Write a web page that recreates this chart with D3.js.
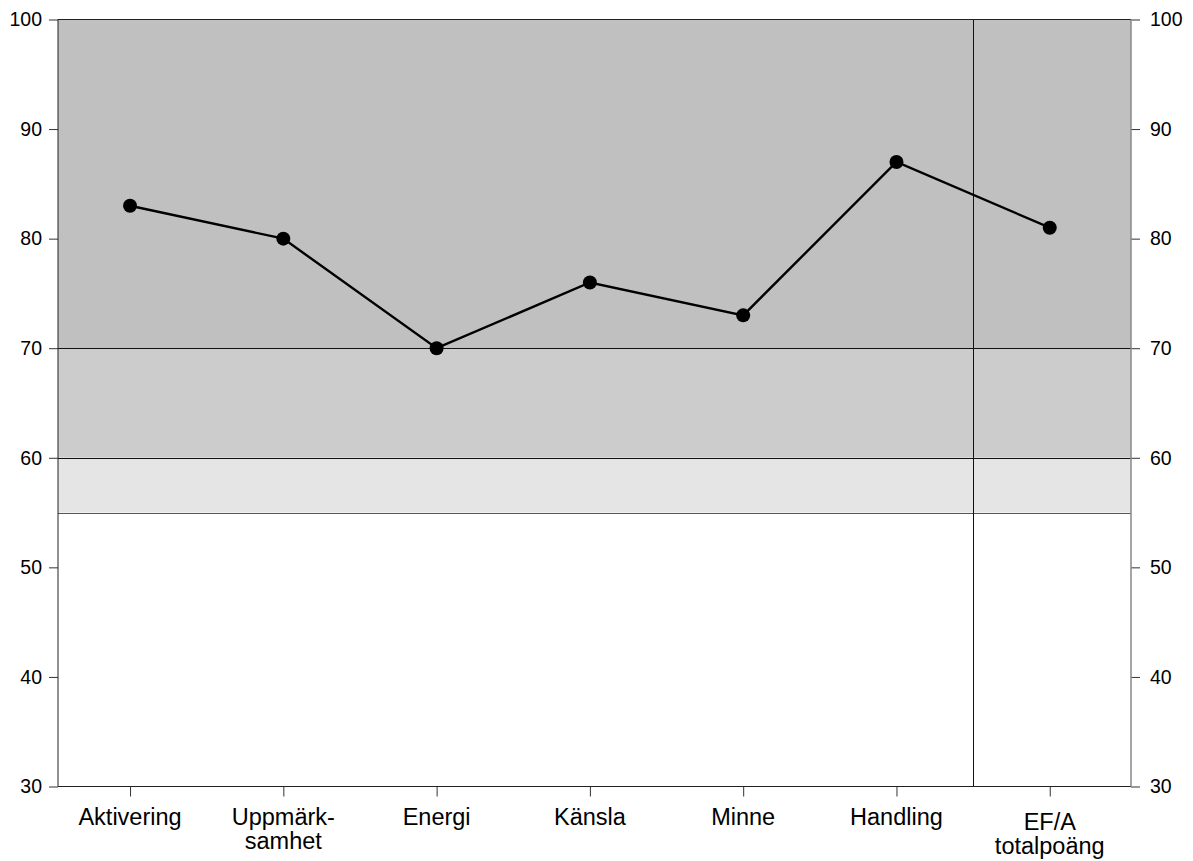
<!DOCTYPE html>
<html>
<head>
<meta charset="utf-8">
<script src="https://d3js.org/d3.v7.min.js"></script>
<style>
  body { margin: 0; background: #fff; }
  svg { font-family: "Liberation Sans", Arial, sans-serif; }
</style>
</head>
<body>
<div id="chart"></div>
<script>
const categories = ["Aktivering", "Uppmärk-\nsamhet", "Energi", "Känsla", "Minne", "Handling", "EF/A\ntotalpoäng"];
const values = [83, 80, 70, 76, 73, 87, 81];
const yTicks = [30, 40, 50, 60, 70, 80, 90, 100];
const bands = [
  { from: 70, to: 100, fill: "#c0c0c0" },
  { from: 60, to: 70, fill: "#cccccc" },
  { from: 55, to: 60, fill: "#e5e5e5" }
];
const bandLines = [70, 60, 55];

const W = 1193, H = 861;
const pLeft = 58, pRight = 1131, pTop = 19.5, pBottom = 786.5;

const svg = d3.select("#chart").append("svg")
  .attr("width", W).attr("height", H);

const y = d3.scaleLinear().domain([30, 100]).range([pBottom, pTop]);
const x = d3.scaleLinear().domain([-0.47, 6.53]).range([pLeft, pRight]);

// bands
svg.selectAll("rect.band").data(bands).join("rect")
  .attr("class", "band")
  .attr("x", pLeft).attr("width", pRight - pLeft)
  .attr("y", d => y(d.to)).attr("height", d => y(d.from) - y(d.to))
  .attr("fill", d => d.fill);

svg.selectAll("line.bl").data(bandLines).join("line")
  .attr("class", "bl")
  .attr("x1", pLeft).attr("x2", pRight)
  .attr("y1", d => Math.round(y(d)) + 0.5).attr("y2", d => Math.round(y(d)) + 0.5)
  .attr("stroke", d => d === 55 ? "#555" : "#111").attr("stroke-width", 1);

// separator between subscales and total
const sepX = Math.round(x(5.5)) + 0.5;
svg.append("line")
  .attr("x1", sepX).attr("x2", sepX).attr("y1", pTop).attr("y2", pBottom)
  .attr("stroke", "#111");

// axes
const axL = svg.append("g").attr("transform", `translate(${pLeft},0)`)
  .call(d3.axisLeft(y).tickValues(yTicks).tickSize(9).tickPadding(7));
const axR = svg.append("g").attr("transform", `translate(${pRight},0)`)
  .call(d3.axisRight(y).tickValues(yTicks).tickSize(9).tickPadding(10));
const axB = svg.append("g").attr("transform", `translate(0,${pBottom})`)
  .call(d3.axisBottom(x).tickValues(d3.range(categories.length)).tickSize(10).tickFormat(""));

[axL, axR].forEach(a => {
  a.select(".domain").remove();
  a.selectAll("text").attr("font-size", 19.5).attr("fill", "#000")
    .attr("font-family", "Liberation Sans, Arial, sans-serif");
  a.selectAll("line").attr("stroke", "#333");
});
axB.select(".domain").remove();
axB.selectAll("line").attr("stroke", "#333");

// frame
svg.append("line").attr("x1", pLeft).attr("x2", pRight).attr("y1", pTop).attr("y2", pTop).attr("stroke", "#222");
svg.append("line").attr("x1", pLeft).attr("x2", pRight).attr("y1", pBottom).attr("y2", pBottom).attr("stroke", "#222");
svg.append("line").attr("x1", pLeft).attr("x2", pLeft).attr("y1", pTop).attr("y2", pBottom).attr("stroke", "#222");
svg.append("line").attr("x1", pRight).attr("x2", pRight).attr("y1", pTop).attr("y2", pBottom).attr("stroke", "#888").attr("stroke-width", 1.5);

// category labels
const lbl = svg.append("g").selectAll("text").data(categories).join("text")
  .attr("x", (d, i) => x(i))
  .attr("y", (d, i) => pBottom + (i === categories.length - 1 ? 43 : 38))
  .attr("text-anchor", "middle")
  .attr("font-size", 23.5).attr("fill", "#000");
lbl.each(function(d, i) {
  const parts = d.split("\n");
  d3.select(this).selectAll("tspan").data(parts).join("tspan")
    .attr("x", d3.select(this).attr("x"))
    .attr("dy", (p, j) => j === 0 ? 0 : 24)
    .text(p => p);
});

// series
const line = d3.line().x((d, i) => x(i)).y(d => y(d));
svg.append("path").datum(values)
  .attr("d", line).attr("fill", "none")
  .attr("stroke", "#000").attr("stroke-width", 2.4);
svg.selectAll("circle.pt").data(values).join("circle")
  .attr("class", "pt")
  .attr("cx", (d, i) => x(i)).attr("cy", d => y(d))
  .attr("r", 7).attr("fill", "#000");
</script>
</body>
</html>
